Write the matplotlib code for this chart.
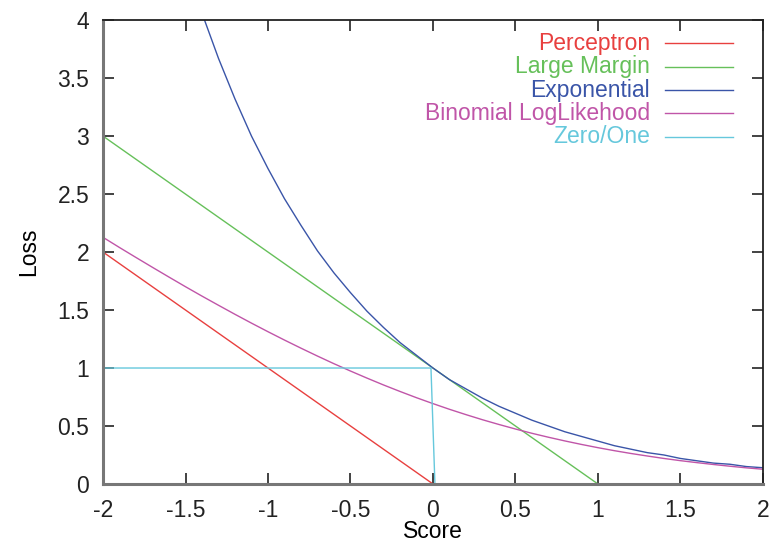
import matplotlib
matplotlib.use("Agg")
import matplotlib.pyplot as plt

# ---- data ----
perc_x = [-2.0, 0.0, 2.0]
perc_y = [2.0, 0.0, 0.0]

margin_x = [-2.0, 1.0, 2.0]
margin_y = [3.0, 0.0, 0.0]

exp_x = [-1.4, -1.3, -1.2, -1.1, -1.0, -0.9, -0.8, -0.7, -0.6, -0.5, -0.4, -0.3,
         -0.2, -0.1, 0.0, 0.1, 0.2, 0.3, 0.4, 0.5, 0.6, 0.7, 0.8, 0.9, 1.0,
         1.1, 1.2, 1.3, 1.4, 1.5, 1.6, 1.7, 1.8, 1.9, 2.0]
exp_y = [4.06, 3.67, 3.32, 3.00, 2.72, 2.46, 2.23, 2.01, 1.82, 1.65, 1.49, 1.35,
         1.22, 1.11, 1.00, 0.90, 0.82, 0.74, 0.67, 0.61, 0.55, 0.50, 0.45, 0.41, 0.37,
         0.33, 0.30, 0.27, 0.25, 0.22, 0.20, 0.18, 0.17, 0.15, 0.14]

binom_x = [-2.0, -1.9, -1.8, -1.7, -1.6, -1.5, -1.4, -1.3, -1.2, -1.1, -1.0,
           -0.9, -0.8, -0.7, -0.6, -0.5, -0.4, -0.3, -0.2, -0.1, 0.0,
           0.1, 0.2, 0.3, 0.4, 0.5, 0.6, 0.7, 0.8, 0.9, 1.0,
           1.1, 1.2, 1.3, 1.4, 1.5, 1.6, 1.7, 1.8, 1.9, 2.0]
binom_y = [2.127, 2.039, 1.953, 1.868, 1.784, 1.701, 1.620, 1.541, 1.463, 1.387, 1.313,
           1.241, 1.171, 1.103, 1.037, 0.974, 0.913, 0.854, 0.798, 0.744, 0.693,
           0.644, 0.598, 0.554, 0.513, 0.474, 0.437, 0.403, 0.371, 0.341, 0.313,
           0.287, 0.263, 0.241, 0.220, 0.201, 0.184, 0.168, 0.153, 0.139, 0.127]

zo_x = [-2.0, -0.012, 0.012, 2.0]
zo_y = [1.0, 1.0, 0.0, 0.0]

labels = ["Perceptron", "Large Margin", "Exponential", "Binomial LogLikehood", "Zero/One"]
colors = ["#e8403f", "#66c05a", "#3a55a8", "#c055a8", "#66c8dc"]

xticks = [-2, -1.5, -1, -0.5, 0, 0.5, 1, 1.5, 2]
xticklabels = ["-2", "-1.5", "-1", "-0.5", "0", "0.5", "1", "1.5", "2"]
yticks = [0, 0.5, 1, 1.5, 2, 2.5, 3, 3.5, 4]
yticklabels = ["0", "0.5", "1", "1.5", "2", "2.5", "3", "3.5", "4"]

plt.rcParams['font.family'] = ['Liberation Sans', 'DejaVu Sans']
FS = 16.5

fig = plt.figure(figsize=(7.69, 5.45), dpi=100)
ax = fig.add_axes([0.134, 0.112, 0.858, 0.851])

series = [(perc_x, perc_y), (margin_x, margin_y), (exp_x, exp_y),
          (binom_x, binom_y), (zo_x, zo_y)]
for (xs, ys), c in zip(series, colors):
    ax.plot(xs, ys, color=c, lw=1.0)

ax.set_xlim(-2, 2)
ax.set_ylim(0, 4)
ax.set_xticks(xticks)
ax.set_xticklabels(xticklabels)
ax.set_yticks(yticks)
ax.set_yticklabels(yticklabels)
ax.tick_params(direction='in', length=8, width=1.2, top=True, right=True,
               labelsize=FS, colors='#222222')
ax.tick_params(axis='x', pad=11)
ax.tick_params(axis='y', pad=10)

for s in ['left', 'bottom']:
    ax.spines[s].set_color('#777777')
    ax.spines[s].set_linewidth(2.2)
for s in ['top', 'right']:
    ax.spines[s].set_color('#222222')
    ax.spines[s].set_linewidth(1.3)

ax.set_xlabel("Score", fontsize=FS, labelpad=-1.5)
ax.set_ylabel("Loss", fontsize=FS, labelpad=12)

# manual legend: right-aligned colored text with line samples
leg_y0 = 0.9497
leg_dy = 0.0503
for i, (lab, c) in enumerate(zip(labels, colors)):
    yy = leg_y0 - i * leg_dy
    ax.text(0.829, yy, lab, color=c, fontsize=FS, ha='right', va='center',
            transform=ax.transAxes)
    ax.plot([0.852, 0.955], [yy, yy], color=c, lw=1.0, transform=ax.transAxes)

fig.savefig("out.png", dpi=100)
